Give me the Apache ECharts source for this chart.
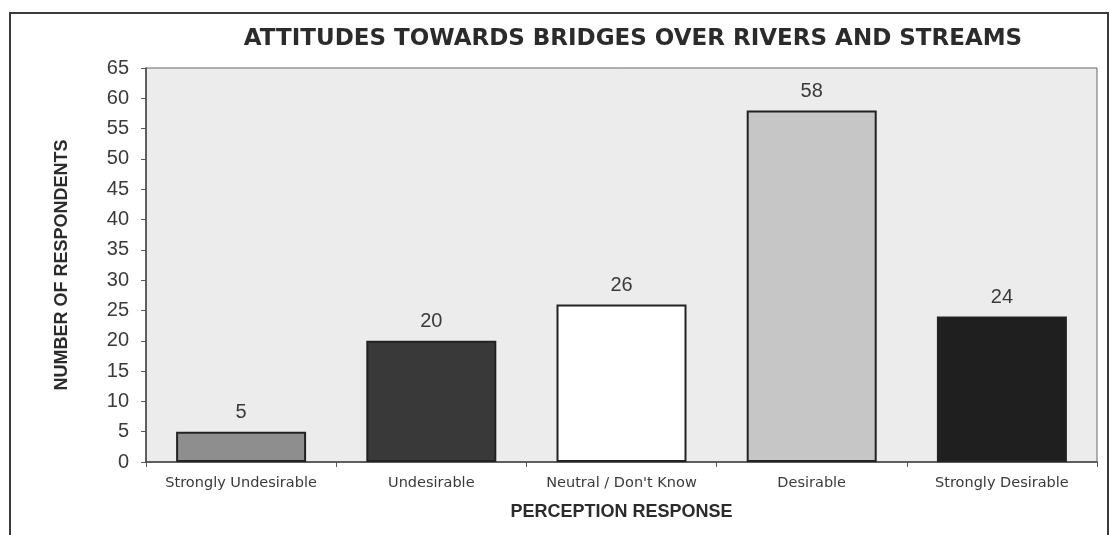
<!DOCTYPE html>
<html>
<head>
<meta charset="utf-8">
<title>Attitudes towards bridges over rivers and streams</title>
<script src="https://cdn.jsdelivr.net/npm/echarts@6/dist/echarts.min.js"></script>
<style>
  html, body { margin: 0; padding: 0; background: #ffffff; }
  #chart { width: 1110px; height: 535px; }
</style>
</head>
<body>
<div id="chart"></div>
<script>
// Survey responses per perception category
const categories = ['Strongly Undesirable', 'Undesirable', 'Neutral / Don\'t Know', 'Desirable', 'Strongly Desirable'];
const respondents = [5, 20, 26, 58, 24];
const yTicks = { min: 0, max: 65, interval: 5 };

// Fill shade for each bar, in category order
const barColors = ['#8e8e8e', '#393939', '#ffffff', '#c6c6c6', '#1f1f1f'];

const chart = echarts.init(document.getElementById('chart'), null, { renderer: 'canvas' });

chart.setOption({
  animation: false,
  backgroundColor: '#ffffff',
  title: {
    text: 'ATTITUDES TOWARDS BRIDGES OVER RIVERS AND STREAMS',
    left: 628,
    top: 23,
    textAlign: 'center',
    textStyle: {
      fontFamily: 'DejaVu Sans',
      fontWeight: 'bold',
      fontSize: 23,
      color: '#2b2b2b'
    }
  },
  graphic: [{
    type: 'rect',
    silent: true,
    shape: { x: 10, y: 13, width: 1098, height: 560 },
    style: { fill: null, stroke: '#3a3a3a', lineWidth: 2 }
  }],
  grid: {
    left: 146,
    right: 13,
    top: 68,
    bottom: 73,
    show: true,
    backgroundColor: '#ececec',
    borderColor: '#666666',
    borderWidth: 1
  },
  xAxis: {
    type: 'category',
    data: categories,
    name: 'PERCEPTION RESPONSE',
    nameLocation: 'middle',
    nameGap: 41,
    nameTextStyle: {
      fontFamily: 'Liberation Sans',
      fontWeight: 'bold',
      fontSize: 18,
      color: '#2b2b2b'
    },
    axisLine: { lineStyle: { color: '#444444', width: 1.5 } },
    axisTick: { show: true, length: 5, lineStyle: { color: '#555555' } },
    axisLabel: {
      margin: 14,
      fontFamily: 'DejaVu Sans',
      fontSize: 14.5,
      color: '#3a3a3a',
      interval: 0
    }
  },
  yAxis: {
    type: 'value',
    min: yTicks.min,
    max: yTicks.max,
    interval: yTicks.interval,
    name: 'NUMBER OF RESPONDENTS',
    nameLocation: 'middle',
    nameGap: 75,
    nameTextStyle: {
      fontFamily: 'Liberation Sans',
      fontWeight: 'bold',
      fontSize: 18,
      color: '#2b2b2b'
    },
    splitLine: { show: false },
    axisLine: { show: true, lineStyle: { color: '#444444', width: 1.5 } },
    axisTick: { show: true, length: 5, lineStyle: { color: '#555555' } },
    axisLabel: {
      margin: 17,
      fontFamily: 'Liberation Sans',
      fontSize: 20,
      color: '#3a3a3a'
    }
  },
  series: [{
    type: 'bar',
    barWidth: 130,
    data: respondents.map((v, i) => ({
      value: v,
      itemStyle: { color: barColors[i] }
    })),
    itemStyle: { borderColor: '#222222', borderWidth: 2 },
    label: {
      show: true,
      position: 'top',
      distance: 9,
      fontFamily: 'Liberation Sans',
      fontSize: 20,
      color: '#3a3a3a'
    }
  }]
});
</script>
</body>
</html>
